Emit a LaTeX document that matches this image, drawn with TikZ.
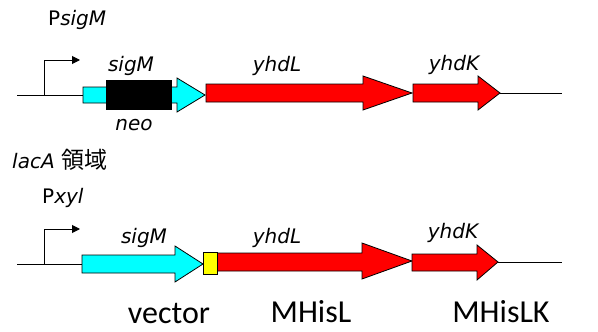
\documentclass[tikz,border=0pt]{standalone}
\usepackage{fontspec}
\setmainfont{DejaVu Sans}
\newfontfamily\cjk[Scale=1.15]{Noto Sans CJK JP}
\newfontfamily\calib{Carlito}
\usetikzlibrary{arrows.meta}
\definecolor{gcyan}{RGB}{0,255,255}
\definecolor{gred}{RGB}{255,0,0}
\definecolor{gyellow}{RGB}{255,255,0}
\begin{document}
\begin{tikzpicture}[x=1pt,y=-1pt,
  gene/.style={draw=black,line width=0.8pt,line join=miter},
  dna/.style={draw=black,line width=1pt},
  prom/.style={draw=black,line width=1pt,-{Triangle[length=8pt,width=8pt]}},
  glabel/.style={inner sep=0pt,font=\fontsize{20}{24}\selectfont\itshape,anchor=base},
  plabel/.style={inner sep=0pt,font=\fontsize{20}{24}\selectfont,anchor=base west},
  blabel/.style={inner sep=0pt,font=\calib\fontsize{32}{36}\selectfont,anchor=base}]
\useasboundingbox (0,0) rectangle (598,332);
% ---------- top construct ----------
\coordinate (t0) at (17,95);
\coordinate (t1) at (83,95);
\coordinate (t2) at (500,93);
\coordinate (t3) at (562,93);
\coordinate (tp) at (44,95);
\coordinate (tpe) at (80,60);
\draw[dna] (t0) -- (t1);
\draw[dna] (t2) -- (t3);
\draw[prom] (tp) |- (tpe);
\draw[gene,fill=gcyan] (83,87) -- (177,87) -- (177,78) -- (205,95) -- (177,112) -- (177,103) -- (83,103) -- cycle;
\draw[gene,fill=black] (106,80) rectangle (171,109);
\draw[gene,fill=gred] (206,84) -- (363,84) -- (363,76) -- (412,93) -- (363,110) -- (363,102) -- (206,102) -- cycle;
\draw[gene,fill=gred] (413,84) -- (478,84) -- (478,76) -- (500,93) -- (478,110) -- (478,102) -- (413,102) -- cycle;
\node[plabel] (psigm) at (48,25) {P\textit{sigM}};
\node[glabel] (lsigm1) at (131,71) {sigM};
\node[glabel] (lneo) at (134,130) {neo};
\node[glabel] (lyhdl1) at (277,71) {yhdL};
\node[glabel] (lyhdk1) at (454,70) {yhdK};
\node[plabel] (laca) at (12,168) {\textit{lacA} {\cjk 領域}};
% ---------- bottom construct ----------
\coordinate (b0) at (17,264);
\coordinate (b1) at (82,264);
\coordinate (b2) at (498,262);
\coordinate (b3) at (562,262);
\coordinate (bp) at (44,264);
\coordinate (bpe) at (80,229);
\draw[dna] (b0) -- (b1);
\draw[dna] (b2) -- (b3);
\draw[prom] (bp) |- (bpe);
\draw[gene,fill=gcyan] (82,255) -- (175,255) -- (175,246) -- (203,264) -- (175,282) -- (175,273) -- (82,273) -- cycle;
\draw[gene,fill=gred] (217,253) -- (362,253) -- (362,243) -- (412,261) -- (362,279) -- (362,271) -- (217,271) -- cycle;
\draw[gene,fill=gyellow] (203,252) rectangle (217,274);
\draw[gene,fill=gred] (412,254) -- (477,254) -- (477,245) -- (498,262) -- (477,280) -- (477,271) -- (412,271) -- cycle;
\node[plabel] (pxyl) at (42,203) {P\textit{xyl}};
\node[glabel] (lsigm2) at (144,243) {sigM};
\node[glabel] (lyhdl2) at (277,243) {yhdL};
\node[glabel] (lyhdk2) at (453,238) {yhdK};
\node[blabel] (lvec) at (169,323) {vector};
\node[blabel] (lmhl) at (311,322) {MHisL};
\node[blabel] (lmhlk) at (501,322) {MHisLK};
\end{tikzpicture}
\end{document}
